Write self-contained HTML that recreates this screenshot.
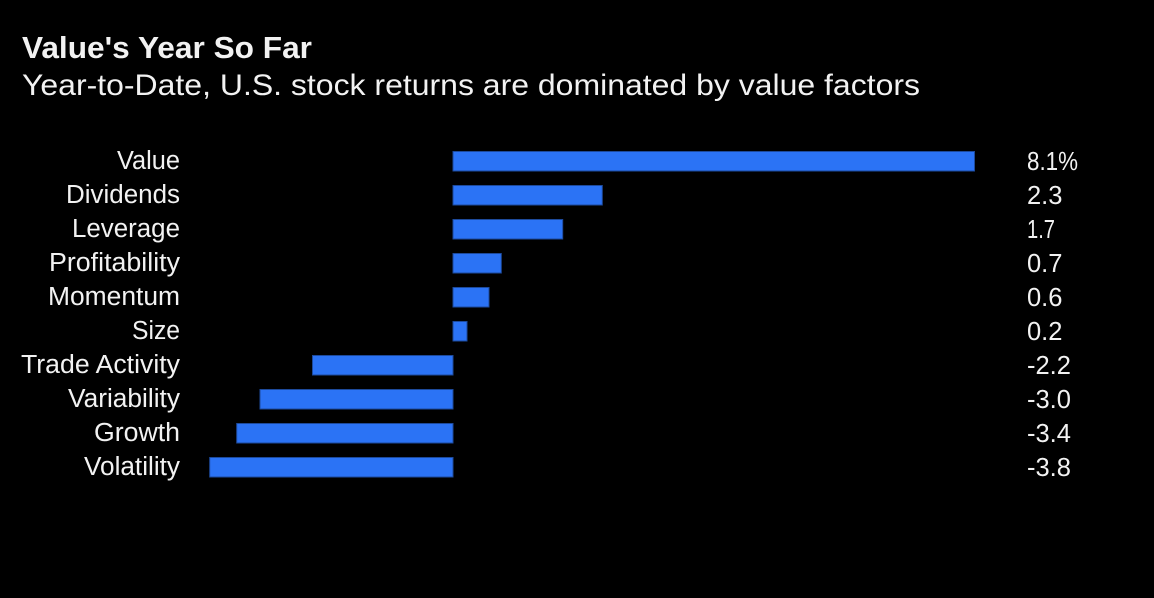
<!DOCTYPE html>
<html>
<head>
<meta charset="utf-8">
<style>
  html, body { margin: 0; padding: 0; background: #000; }
  body { width: 1154px; height: 598px; overflow: hidden; }
  svg { display: block; }
  text { font-family: "Liberation Sans", "DejaVu Sans", sans-serif; fill: #f2f2f2; }
</style>
</head>
<body>
<svg width="1154" height="598" viewBox="0 0 1154 598" xmlns="http://www.w3.org/2000/svg">
  <rect x="0" y="0" width="1154" height="598" fill="#000"/>

  <text x="22" y="58" font-size="31" font-weight="bold" textLength="290" lengthAdjust="spacingAndGlyphs" fill="#ffffff">Value's Year So Far</text>
  <text x="22" y="95" font-size="30" textLength="898" lengthAdjust="spacingAndGlyphs">Year-to-Date, U.S. stock returns are dominated by value factors</text>

  <g fill="#2b73f5" stroke="#1d4a9c" stroke-width="1">
    <rect x="453" y="151.5" width="521.5" height="19.5"/>
    <rect x="453" y="185.5" width="149.3" height="19.5"/>
    <rect x="453" y="219.5" width="109.7" height="19.5"/>
    <rect x="453" y="253.5" width="48.3" height="19.5"/>
    <rect x="453" y="287.5" width="36" height="19.5"/>
    <rect x="453" y="321.5" width="14" height="19.5"/>
    <rect x="312.5" y="355.5" width="140.5" height="19.5"/>
    <rect x="260" y="389.5" width="193" height="19.5"/>
    <rect x="236.7" y="423.5" width="216.3" height="19.5"/>
    <rect x="209.7" y="457.5" width="243.3" height="19.5"/>
  </g>

  <g font-size="25.5" lengthAdjust="spacingAndGlyphs">
    <text x="117" y="169" textLength="63" lengthAdjust="spacingAndGlyphs">Value</text>
    <text x="66" y="203" textLength="114" lengthAdjust="spacingAndGlyphs">Dividends</text>
    <text x="72" y="237" textLength="108" lengthAdjust="spacingAndGlyphs">Leverage</text>
    <text x="49" y="271" textLength="131" lengthAdjust="spacingAndGlyphs">Profitability</text>
    <text x="48" y="305" textLength="132" lengthAdjust="spacingAndGlyphs">Momentum</text>
    <text x="132" y="339" textLength="48" lengthAdjust="spacingAndGlyphs">Size</text>
    <text x="21" y="373" textLength="159" lengthAdjust="spacingAndGlyphs">Trade Activity</text>
    <text x="68" y="407" textLength="112" lengthAdjust="spacingAndGlyphs">Variability</text>
    <text x="94" y="441" textLength="86" lengthAdjust="spacingAndGlyphs">Growth</text>
    <text x="84" y="475" textLength="96" lengthAdjust="spacingAndGlyphs">Volatility</text>
  </g>

  <g font-size="25.5">
    <text x="1027" y="169.8" textLength="51" lengthAdjust="spacingAndGlyphs">8.1%</text>
    <text x="1027" y="203.8">2.3</text>
    <text x="1027" y="237.8" textLength="28" lengthAdjust="spacingAndGlyphs">1.7</text>
    <text x="1027" y="271.8">0.7</text>
    <text x="1027" y="305.8">0.6</text>
    <text x="1027" y="339.8">0.2</text>
    <text x="1027" y="373.8">-2.2</text>
    <text x="1027" y="407.8">-3.0</text>
    <text x="1027" y="441.8">-3.4</text>
    <text x="1027" y="475.8">-3.8</text>
  </g>
</svg>
</body>
</html>
